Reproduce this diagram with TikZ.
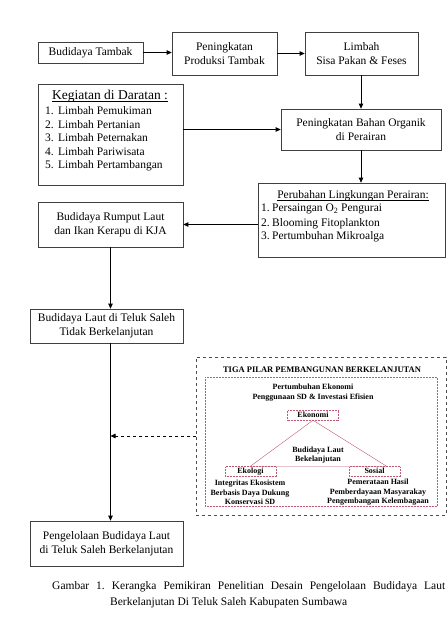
\documentclass[tikz,border=0pt]{standalone}
\usepackage{fontspec}
\setmainfont{Liberation Serif}
\usepackage{xcolor}
\usetikzlibrary{arrows.meta}

\definecolor{pilarred}{RGB}{190,90,115}

\tikzset{
  box/.style={draw=black!75, line width=0.7pt, align=center, inner sep=0pt,
    font=\fontsize{11.5}{14}\selectfont},
  listtext/.style={inner sep=0pt, font=\fontsize{11.5}{14}\selectfont},
  arr/.style={line width=0.8pt, -{Triangle[length=5pt,width=4.5pt]}},
  pilarbox/.style={draw=pilarred, densely dotted, line width=0.5pt, inner sep=0pt,
    minimum width=51, minimum height=10, text height=6pt, text depth=1.5pt,
    font=\fontsize{8}{9}\selectfont\bfseries},
  small/.style={align=center, inner sep=0pt, font=\fontsize{8}{9.5}\selectfont\bfseries},
}

\begin{document}
\begin{tikzpicture}[x=1pt,y=-1pt]
  \useasboundingbox (0,0) rectangle (447,617);

  % top row
  \node[box, minimum width=105, minimum height=21] (tambak) at (90.5,52.5) {Budidaya Tambak};
  \node[box, minimum width=105, minimum height=43] (produksi) at (224.5,53.5) {Peningkatan\\Produksi Tambak};
  \node[box, minimum width=113, minimum height=43] (limbah) at (361.5,53.5) {Limbah\\Sisa Pakan \& Feses};

  % land based activities
  \node[box, minimum width=145, minimum height=101] (kegiatan) at (110.5,134.5) {};
  \node[listtext, font=\fontsize{13.5}{16}\selectfont, anchor=base] (kegtitle) at (110,100) {\underline{\smash{Kegiatan di Daratan :}}};
  \foreach \t [count=\q from 1] in {Pemukiman,Pertanian,Peternakan,Pariwisata,Pertambangan} {
    \node[listtext, anchor=base west] (keg\q) at (45,101.5+\q*13.5) {\makebox[13pt][l]{\q.}Limbah \t};
  }

  \node[box, minimum width=160, minimum height=41] (organik) at (361,129.5) {Peningkatan Bahan Organik\\di Perairan};

  % water changes
  \node[box, minimum width=187, minimum height=74] (perubahan) at (351.5,220) {};
  \node[listtext, anchor=base] (perubtitle) at (353,199) {\underline{\smash{Perubahan Lingkungan Perairan:}}};
  \foreach \t [count=\q from 1] in {{Persaingan O\textsubscript{2} Pengurai},{Blooming Fitoplankton},{Pertumbuhan Mikroalga}} {
    \node[listtext, anchor=base west] (perub\q) at (261,198+\q*14) {\makebox[11pt][l]{\q.}\t};
  }

  \node[box, minimum width=145, minimum height=45] (rumput) at (110.5,224.5) {Budidaya Rumput Laut\\dan Ikan Kerapu di KJA};
  \node[box, minimum width=153, minimum height=34] (tidak) at (106.5,326) {Budidaya Laut di Teluk Saleh\\Tidak Berkelanjutan};
  \node[box, minimum width=153, minimum height=45] (pengelolaan) at (106.5,543.5) {Pengelolaan Budidaya Laut\\di Teluk Saleh Berkelanjutan};

  % three pillars
  \node[draw=black!70, dashed, line width=0.7pt, minimum width=250, minimum height=158, inner sep=0pt] (pilar) at (321,436) {};
  \node[small, font=\fontsize{8.5}{10}\selectfont\bfseries, anchor=base] (pilartitle) at (322,372) {TIGA PILAR PEMBANGUNAN BERKELANJUTAN};
  \draw[pilarred, densely dotted, line width=0.5pt] (205,377) rectangle (437,506);
  \node[small] (ekotext) at (313,392.5) {Pertumbuhan Ekonomi\\Penggunaan SD \& Investasi Efisien};
  \node[pilarbox] (ekonomi) at (313,415) {Ekonomi};
  \node[pilarbox] (ekologi) at (250.5,471.5) {Ekologi};
  \node[pilarbox] (sosial) at (374.5,471.5) {Sosial};
  \coordinate (triL) at (250,466.5);
  \coordinate (triR) at (387,466.5);
  \draw[pilarred, line width=0.4pt] (ekonomi.south) -- (triL) -- (triR) -- cycle;
  \node[small] (lestari) at (318,455) {Budidaya Laut\\Bekelanjutan};
  \node[small] (ekologitext) at (250,492.5) {Integritas Ekosistem\\Berbasis Daya Dukung\\Konservasi SD};
  \node[small] (sosialtext) at (378,492.5) {Pemerataan Hasil\\Pemberdayaan Masyarakay\\Pengembangan Kelembagaan};

  % connectors
  \draw[arr] (tambak.east) -- (produksi.west |- tambak.east);
  \draw[arr] (produksi.east) -- (limbah.west);
  \draw[arr] (limbah.south -| organik.north) -- (organik.north);
  \draw[arr] (organik.west -| kegiatan.east) -- (organik.west);
  \draw[arr] (organik.south) -- (organik.south |- perubahan.north);
  \draw[arr] (rumput.east -| perubahan.west) -- (rumput.east);
  \draw[arr] (rumput.south) -- (rumput.south |- tidak.north);
  \draw[arr] (tidak.south -| rumput.south) -- (pengelolaan.north -| rumput.south);
  \draw[arr, dashed] (pilar.west) -- (pilar.west -| rumput.south);

  % caption
  \node[anchor=north west, inner sep=0pt, text width=393pt, align=justify,
    font=\fontsize{11.5}{16}\selectfont\frenchspacing] (caption) at (52,581.5)
    {Gambar 1. Kerangka Pemikiran Penelitian Desain Pengelolaan Budidaya Laut\linebreak\hspace*{58pt}Berkelanjutan Di Teluk Saleh Kabupaten Sumbawa};
\end{tikzpicture}
\end{document}
